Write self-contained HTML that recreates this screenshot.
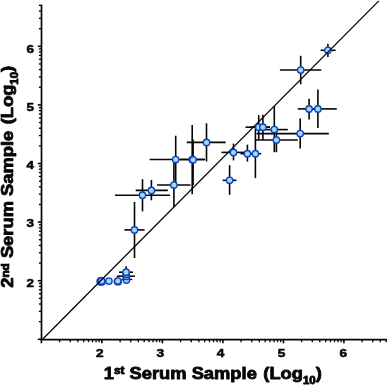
<!DOCTYPE html>
<html><head><meta charset="utf-8"><title>chart</title>
<style>html,body{margin:0;padding:0;background:#fff;}body{width:387px;height:385px;overflow:hidden;font-family:"Liberation Sans",sans-serif;}</style></head>
<body>
<svg width="387" height="385" viewBox="0 0 387 385" style="display:block">
<rect width="387" height="385" fill="#fff"/>
<g stroke="#050505" stroke-width="1.7" fill="none">
<line x1="41.5" y1="4.7" x2="41.5" y2="340.35"/>
<line x1="40.75" y1="339.6" x2="386.8" y2="339.6"/>
</g>
<g stroke="#050505" stroke-width="1">
<line x1="41.40" y1="339.6" x2="41.40" y2="343.3" stroke-width="1.6"/>
<line x1="41.5" y1="339.30" x2="37.8" y2="339.30" stroke-width="1.6"/>
<line x1="59.61" y1="339.6" x2="59.61" y2="342.20000000000005" stroke-width="1.35"/>
<line x1="41.5" y1="321.66" x2="38.9" y2="321.66" stroke-width="1.35"/>
<line x1="70.27" y1="339.6" x2="70.27" y2="342.20000000000005" stroke-width="1.35"/>
<line x1="41.5" y1="311.34" x2="38.9" y2="311.34" stroke-width="1.35"/>
<line x1="77.82" y1="339.6" x2="77.82" y2="342.20000000000005" stroke-width="1.35"/>
<line x1="41.5" y1="304.02" x2="38.9" y2="304.02" stroke-width="1.35"/>
<line x1="83.69" y1="339.6" x2="83.69" y2="342.20000000000005" stroke-width="1.35"/>
<line x1="41.5" y1="298.34" x2="38.9" y2="298.34" stroke-width="1.35"/>
<line x1="88.48" y1="339.6" x2="88.48" y2="342.20000000000005" stroke-width="1.35"/>
<line x1="41.5" y1="293.70" x2="38.9" y2="293.70" stroke-width="1.35"/>
<line x1="92.53" y1="339.6" x2="92.53" y2="342.20000000000005" stroke-width="1.35"/>
<line x1="41.5" y1="289.78" x2="38.9" y2="289.78" stroke-width="1.35"/>
<line x1="96.04" y1="339.6" x2="96.04" y2="342.20000000000005" stroke-width="1.35"/>
<line x1="41.5" y1="286.38" x2="38.9" y2="286.38" stroke-width="1.35"/>
<line x1="99.13" y1="339.6" x2="99.13" y2="342.20000000000005" stroke-width="1.35"/>
<line x1="41.5" y1="283.38" x2="38.9" y2="283.38" stroke-width="1.35"/>
<line x1="101.90" y1="339.6" x2="101.90" y2="343.3" stroke-width="1.6"/>
<line x1="41.5" y1="280.70" x2="37.8" y2="280.70" stroke-width="1.6"/>
<line x1="120.11" y1="339.6" x2="120.11" y2="342.20000000000005" stroke-width="1.35"/>
<line x1="41.5" y1="263.06" x2="38.9" y2="263.06" stroke-width="1.35"/>
<line x1="130.77" y1="339.6" x2="130.77" y2="342.20000000000005" stroke-width="1.35"/>
<line x1="41.5" y1="252.74" x2="38.9" y2="252.74" stroke-width="1.35"/>
<line x1="138.32" y1="339.6" x2="138.32" y2="342.20000000000005" stroke-width="1.35"/>
<line x1="41.5" y1="245.42" x2="38.9" y2="245.42" stroke-width="1.35"/>
<line x1="144.19" y1="339.6" x2="144.19" y2="342.20000000000005" stroke-width="1.35"/>
<line x1="41.5" y1="239.74" x2="38.9" y2="239.74" stroke-width="1.35"/>
<line x1="148.98" y1="339.6" x2="148.98" y2="342.20000000000005" stroke-width="1.35"/>
<line x1="41.5" y1="235.10" x2="38.9" y2="235.10" stroke-width="1.35"/>
<line x1="153.03" y1="339.6" x2="153.03" y2="342.20000000000005" stroke-width="1.35"/>
<line x1="41.5" y1="231.18" x2="38.9" y2="231.18" stroke-width="1.35"/>
<line x1="156.54" y1="339.6" x2="156.54" y2="342.20000000000005" stroke-width="1.35"/>
<line x1="41.5" y1="227.78" x2="38.9" y2="227.78" stroke-width="1.35"/>
<line x1="159.63" y1="339.6" x2="159.63" y2="342.20000000000005" stroke-width="1.35"/>
<line x1="41.5" y1="224.78" x2="38.9" y2="224.78" stroke-width="1.35"/>
<line x1="162.40" y1="339.6" x2="162.40" y2="343.3" stroke-width="1.6"/>
<line x1="41.5" y1="222.10" x2="37.8" y2="222.10" stroke-width="1.6"/>
<line x1="180.61" y1="339.6" x2="180.61" y2="342.20000000000005" stroke-width="1.35"/>
<line x1="41.5" y1="204.46" x2="38.9" y2="204.46" stroke-width="1.35"/>
<line x1="191.27" y1="339.6" x2="191.27" y2="342.20000000000005" stroke-width="1.35"/>
<line x1="41.5" y1="194.14" x2="38.9" y2="194.14" stroke-width="1.35"/>
<line x1="198.82" y1="339.6" x2="198.82" y2="342.20000000000005" stroke-width="1.35"/>
<line x1="41.5" y1="186.82" x2="38.9" y2="186.82" stroke-width="1.35"/>
<line x1="204.69" y1="339.6" x2="204.69" y2="342.20000000000005" stroke-width="1.35"/>
<line x1="41.5" y1="181.14" x2="38.9" y2="181.14" stroke-width="1.35"/>
<line x1="209.48" y1="339.6" x2="209.48" y2="342.20000000000005" stroke-width="1.35"/>
<line x1="41.5" y1="176.50" x2="38.9" y2="176.50" stroke-width="1.35"/>
<line x1="213.53" y1="339.6" x2="213.53" y2="342.20000000000005" stroke-width="1.35"/>
<line x1="41.5" y1="172.58" x2="38.9" y2="172.58" stroke-width="1.35"/>
<line x1="217.04" y1="339.6" x2="217.04" y2="342.20000000000005" stroke-width="1.35"/>
<line x1="41.5" y1="169.18" x2="38.9" y2="169.18" stroke-width="1.35"/>
<line x1="220.13" y1="339.6" x2="220.13" y2="342.20000000000005" stroke-width="1.35"/>
<line x1="41.5" y1="166.18" x2="38.9" y2="166.18" stroke-width="1.35"/>
<line x1="222.90" y1="339.6" x2="222.90" y2="343.3" stroke-width="1.6"/>
<line x1="41.5" y1="163.50" x2="37.8" y2="163.50" stroke-width="1.6"/>
<line x1="241.11" y1="339.6" x2="241.11" y2="342.20000000000005" stroke-width="1.35"/>
<line x1="41.5" y1="145.86" x2="38.9" y2="145.86" stroke-width="1.35"/>
<line x1="251.77" y1="339.6" x2="251.77" y2="342.20000000000005" stroke-width="1.35"/>
<line x1="41.5" y1="135.54" x2="38.9" y2="135.54" stroke-width="1.35"/>
<line x1="259.32" y1="339.6" x2="259.32" y2="342.20000000000005" stroke-width="1.35"/>
<line x1="41.5" y1="128.22" x2="38.9" y2="128.22" stroke-width="1.35"/>
<line x1="265.19" y1="339.6" x2="265.19" y2="342.20000000000005" stroke-width="1.35"/>
<line x1="41.5" y1="122.54" x2="38.9" y2="122.54" stroke-width="1.35"/>
<line x1="269.98" y1="339.6" x2="269.98" y2="342.20000000000005" stroke-width="1.35"/>
<line x1="41.5" y1="117.90" x2="38.9" y2="117.90" stroke-width="1.35"/>
<line x1="274.03" y1="339.6" x2="274.03" y2="342.20000000000005" stroke-width="1.35"/>
<line x1="41.5" y1="113.98" x2="38.9" y2="113.98" stroke-width="1.35"/>
<line x1="277.54" y1="339.6" x2="277.54" y2="342.20000000000005" stroke-width="1.35"/>
<line x1="41.5" y1="110.58" x2="38.9" y2="110.58" stroke-width="1.35"/>
<line x1="280.63" y1="339.6" x2="280.63" y2="342.20000000000005" stroke-width="1.35"/>
<line x1="41.5" y1="107.58" x2="38.9" y2="107.58" stroke-width="1.35"/>
<line x1="283.40" y1="339.6" x2="283.40" y2="343.3" stroke-width="1.6"/>
<line x1="41.5" y1="104.90" x2="37.8" y2="104.90" stroke-width="1.6"/>
<line x1="301.61" y1="339.6" x2="301.61" y2="342.20000000000005" stroke-width="1.35"/>
<line x1="41.5" y1="87.26" x2="38.9" y2="87.26" stroke-width="1.35"/>
<line x1="312.27" y1="339.6" x2="312.27" y2="342.20000000000005" stroke-width="1.35"/>
<line x1="41.5" y1="76.94" x2="38.9" y2="76.94" stroke-width="1.35"/>
<line x1="319.82" y1="339.6" x2="319.82" y2="342.20000000000005" stroke-width="1.35"/>
<line x1="41.5" y1="69.62" x2="38.9" y2="69.62" stroke-width="1.35"/>
<line x1="325.69" y1="339.6" x2="325.69" y2="342.20000000000005" stroke-width="1.35"/>
<line x1="41.5" y1="63.94" x2="38.9" y2="63.94" stroke-width="1.35"/>
<line x1="330.48" y1="339.6" x2="330.48" y2="342.20000000000005" stroke-width="1.35"/>
<line x1="41.5" y1="59.30" x2="38.9" y2="59.30" stroke-width="1.35"/>
<line x1="334.53" y1="339.6" x2="334.53" y2="342.20000000000005" stroke-width="1.35"/>
<line x1="41.5" y1="55.38" x2="38.9" y2="55.38" stroke-width="1.35"/>
<line x1="338.04" y1="339.6" x2="338.04" y2="342.20000000000005" stroke-width="1.35"/>
<line x1="41.5" y1="51.98" x2="38.9" y2="51.98" stroke-width="1.35"/>
<line x1="341.13" y1="339.6" x2="341.13" y2="342.20000000000005" stroke-width="1.35"/>
<line x1="41.5" y1="48.98" x2="38.9" y2="48.98" stroke-width="1.35"/>
<line x1="343.90" y1="339.6" x2="343.90" y2="343.3" stroke-width="1.6"/>
<line x1="41.5" y1="46.30" x2="37.8" y2="46.30" stroke-width="1.6"/>
<line x1="362.11" y1="339.6" x2="362.11" y2="342.20000000000005" stroke-width="1.35"/>
<line x1="41.5" y1="28.66" x2="38.9" y2="28.66" stroke-width="1.35"/>
<line x1="372.77" y1="339.6" x2="372.77" y2="342.20000000000005" stroke-width="1.35"/>
<line x1="41.5" y1="18.34" x2="38.9" y2="18.34" stroke-width="1.35"/>
<line x1="380.32" y1="339.6" x2="380.32" y2="342.20000000000005" stroke-width="1.35"/>
<line x1="41.5" y1="11.02" x2="38.9" y2="11.02" stroke-width="1.35"/>
<line x1="386.19" y1="339.6" x2="386.19" y2="342.20000000000005" stroke-width="1.35"/>
<line x1="41.5" y1="5.34" x2="38.9" y2="5.34" stroke-width="1.35"/>
</g>
<defs><radialGradient id="mg" cx="50%" cy="50%" r="50%"><stop offset="0" stop-color="#b2e1ff"/><stop offset="0.55" stop-color="#94d2ff"/><stop offset="1" stop-color="#80c4fa"/></radialGradient></defs>
<g stroke="#050505" stroke-width="1.6">
<line x1="320.6" y1="50.3" x2="335.6" y2="50.3"/>
<line x1="327.9" y1="43.7" x2="327.9" y2="56.9"/>
</g>
<g fill="url(#mg)" stroke="#1242b2" stroke-width="1.35">
<circle cx="100.2" cy="281.3" r="3.2"/>
<circle cx="100.8" cy="282.0" r="3.2"/>
<circle cx="101.0" cy="280.6" r="3.2"/>
<circle cx="101.9" cy="281.7" r="3.2"/>
<circle cx="101.6" cy="281.1" r="3.2"/>
<circle cx="327.9" cy="50.3" r="3.2"/>
</g>
<line x1="41.8" y1="340" x2="378.8" y2="0.9" stroke="#050505" stroke-width="1.3"/>
<g stroke="#050505" stroke-width="1.6">
<line x1="121.8" y1="279.4" x2="132.2" y2="279.4"/>
<line x1="116.8" y1="276.2" x2="134.9" y2="276.2"/>
<line x1="119" y1="272.2" x2="133" y2="272.2"/>
<line x1="126.1" y1="266.3" x2="126.1" y2="284"/>
<line x1="124.4" y1="229.9" x2="144.6" y2="229.9"/>
<line x1="134.5" y1="201.9" x2="134.5" y2="258"/>
<line x1="115" y1="195.2" x2="170" y2="195.2"/>
<line x1="142.5" y1="179.2" x2="142.5" y2="211.4"/>
<line x1="135.7" y1="190.4" x2="167.8" y2="190.4"/>
<line x1="151.4" y1="180" x2="151.4" y2="200.3"/>
<line x1="157" y1="185.0" x2="190.5" y2="185.0"/>
<line x1="173.9" y1="160" x2="173.9" y2="207"/>
<line x1="149.6" y1="159.5" x2="205" y2="159.5"/>
<line x1="175.7" y1="135.7" x2="175.7" y2="185"/>
<line x1="180" y1="159.5" x2="204.5" y2="159.5"/>
<line x1="192.2" y1="125.0" x2="192.2" y2="194.3"/>
<line x1="193.1" y1="139.5" x2="193.1" y2="185"/>
<line x1="186.8" y1="142.4" x2="225.7" y2="142.4"/>
<line x1="206.5" y1="123.3" x2="206.5" y2="161.5"/>
<line x1="221.5" y1="152.4" x2="244" y2="152.4"/>
<line x1="233.5" y1="143.6" x2="233.5" y2="160.4"/>
<line x1="222.7" y1="180.3" x2="236.4" y2="180.3"/>
<line x1="229.6" y1="165.2" x2="229.6" y2="194.8"/>
<line x1="240.6" y1="153.7" x2="255" y2="153.7"/>
<line x1="247.4" y1="144.7" x2="247.4" y2="161.6"/>
<line x1="248" y1="153.7" x2="261.2" y2="153.7"/>
<line x1="255.4" y1="127" x2="255.4" y2="178.1"/>
<line x1="245.5" y1="127.2" x2="270" y2="127.2"/>
<line x1="258.7" y1="115.1" x2="258.7" y2="139.7"/>
<line x1="250" y1="127.2" x2="270" y2="127.2"/>
<line x1="262.9" y1="114.8" x2="262.9" y2="139.7"/>
<line x1="262" y1="129.6" x2="287.8" y2="129.6"/>
<line x1="274.3" y1="106.2" x2="274.3" y2="152.2"/>
<line x1="255.4" y1="140.0" x2="297.7" y2="140.0"/>
<line x1="276.4" y1="127" x2="276.4" y2="152.2"/>
<line x1="256.5" y1="133.6" x2="328.8" y2="133.6"/>
<line x1="300.2" y1="118.5" x2="300.2" y2="148.4"/>
<line x1="297.8" y1="108.9" x2="320" y2="108.9"/>
<line x1="309.1" y1="98.8" x2="309.1" y2="119.6"/>
<line x1="305" y1="108.9" x2="336.8" y2="108.9"/>
<line x1="317.9" y1="89.5" x2="317.9" y2="128"/>
<line x1="279.9" y1="70.0" x2="321.3" y2="70.0"/>
<line x1="300.7" y1="55.8" x2="300.7" y2="84.2"/>
</g>
<g fill="url(#mg)" stroke="#1242b2" stroke-width="1.35">
<circle cx="108.9" cy="281.1" r="3.2"/>
<circle cx="117.4" cy="281.3" r="3.2"/>
<circle cx="118.1" cy="281.7" r="3.2"/>
<circle cx="117.8" cy="281.0" r="3.2"/>
<circle cx="126.4" cy="280.1" r="3.2"/>
<circle cx="126.2" cy="276.4" r="3.2"/>
<circle cx="126.2" cy="274.3" r="3.2"/>
<circle cx="126.1" cy="272.2" r="3.2"/>
<circle cx="134.5" cy="229.9" r="3.2"/>
<circle cx="142.5" cy="195.2" r="3.2"/>
<circle cx="151.4" cy="190.4" r="3.2"/>
<circle cx="173.9" cy="185.0" r="3.2"/>
<circle cx="175.7" cy="159.5" r="3.2"/>
<circle cx="192.2" cy="159.5" r="3.2"/>
<circle cx="193.1" cy="159.8" r="3.2"/>
<circle cx="206.5" cy="142.4" r="3.2"/>
<circle cx="233.5" cy="152.4" r="3.2"/>
<circle cx="229.6" cy="180.3" r="3.2"/>
<circle cx="247.4" cy="153.7" r="3.2"/>
<circle cx="255.4" cy="153.7" r="3.2"/>
<circle cx="258.7" cy="127.2" r="3.2"/>
<circle cx="262.9" cy="127.2" r="3.2"/>
<circle cx="274.3" cy="129.6" r="3.2"/>
<circle cx="276.4" cy="140.0" r="3.2"/>
<circle cx="300.2" cy="133.6" r="3.2"/>
<circle cx="309.1" cy="108.9" r="3.2"/>
<circle cx="317.9" cy="108.9" r="3.2"/>
<circle cx="300.7" cy="70.0" r="3.2"/>
</g>
<g style="opacity:0.995">
<text transform="translate(99.8,357.4) scale(1.17,1)" font-size="11.7" text-anchor="middle" font-family="Liberation Sans, sans-serif" font-weight="bold" fill="#050505" stroke="#050505" stroke-width="0.55" stroke-linejoin="round">2</text>
<text transform="translate(30.3,287.3) scale(1.17,1)" font-size="11.5" text-anchor="middle" font-family="Liberation Sans, sans-serif" font-weight="bold" fill="#050505" stroke="#050505" stroke-width="0.55" stroke-linejoin="round">2</text>
<text transform="translate(160.2,357.4) scale(1.17,1)" font-size="11.7" text-anchor="middle" font-family="Liberation Sans, sans-serif" font-weight="bold" fill="#050505" stroke="#050505" stroke-width="0.55" stroke-linejoin="round">3</text>
<text transform="translate(30.3,227.3) scale(1.17,1)" font-size="11.5" text-anchor="middle" font-family="Liberation Sans, sans-serif" font-weight="bold" fill="#050505" stroke="#050505" stroke-width="0.55" stroke-linejoin="round">3</text>
<text transform="translate(220.6,357.4) scale(1.17,1)" font-size="11.7" text-anchor="middle" font-family="Liberation Sans, sans-serif" font-weight="bold" fill="#050505" stroke="#050505" stroke-width="0.55" stroke-linejoin="round">4</text>
<text transform="translate(30.3,168.7) scale(1.17,1)" font-size="11.5" text-anchor="middle" font-family="Liberation Sans, sans-serif" font-weight="bold" fill="#050505" stroke="#050505" stroke-width="0.55" stroke-linejoin="round">4</text>
<text transform="translate(281.5,357.4) scale(1.17,1)" font-size="11.7" text-anchor="middle" font-family="Liberation Sans, sans-serif" font-weight="bold" fill="#050505" stroke="#050505" stroke-width="0.55" stroke-linejoin="round">5</text>
<text transform="translate(30.3,111.3) scale(1.17,1)" font-size="11.5" text-anchor="middle" font-family="Liberation Sans, sans-serif" font-weight="bold" fill="#050505" stroke="#050505" stroke-width="0.55" stroke-linejoin="round">5</text>
<text transform="translate(343.4,357.4) scale(1.17,1)" font-size="11.7" text-anchor="middle" font-family="Liberation Sans, sans-serif" font-weight="bold" fill="#050505" stroke="#050505" stroke-width="0.55" stroke-linejoin="round">6</text>
<text transform="translate(30.3,53.4) scale(1.17,1)" font-size="11.5" text-anchor="middle" font-family="Liberation Sans, sans-serif" font-weight="bold" fill="#050505" stroke="#050505" stroke-width="0.55" stroke-linejoin="round">6</text>
<text x="103.8" y="378.8" font-size="16" font-family="Liberation Sans, sans-serif" font-weight="bold" fill="#050505" stroke="#050505" stroke-width="0.8" stroke-linejoin="round" textLength="218" lengthAdjust="spacingAndGlyphs">1<tspan font-size="10.3" dy="-4.6">st</tspan><tspan dy="4.6"> Serum Sample </tspan><tspan dx="1.2">(Log</tspan><tspan font-size="10" dy="4.7">10</tspan><tspan dy="-4.7">)</tspan></text>
<text transform="translate(13.2,287.8) rotate(-90)" font-size="16" font-family="Liberation Sans, sans-serif" font-weight="bold" fill="#050505" stroke="#050505" stroke-width="0.8" stroke-linejoin="round" textLength="222" lengthAdjust="spacingAndGlyphs">2<tspan font-size="10.3" dy="-4.6">nd</tspan><tspan dy="4.6"> Serum Sample </tspan><tspan dx="1.2">(Log</tspan><tspan font-size="10" dy="4.7">10</tspan><tspan dy="-4.7">)</tspan></text>
</g>
</svg>
</body></html>
